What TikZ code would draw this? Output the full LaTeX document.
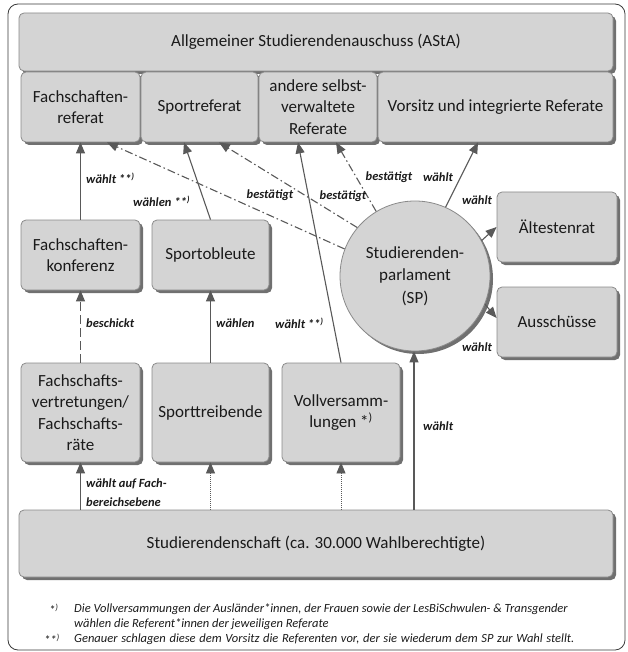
\documentclass[tikz,border=0pt]{standalone}
\usepackage{fontspec}
\setmainfont{Carlito}
\usetikzlibrary{arrows.meta,shadows,calc}
\definecolor{boxfill}{HTML}{D4D4D4}
\definecolor{boxline}{HTML}{8A8A8A}
\definecolor{shadowc}{HTML}{707070}
\definecolor{arrc}{HTML}{595959}
\definecolor{framec}{HTML}{3A3A3A}
\definecolor{txt}{HTML}{1A1A1A}
\newcommand\fnmark{\textsuperscript{)}}
\begin{document}
\begin{tikzpicture}[x=1pt,y=-1pt,
  box/.style={draw=boxline, line width=0.8pt, fill=boxfill, rounded corners=5pt,
    align=center, inner sep=2pt, text=txt, font=\fontsize{17}{21.5}\selectfont,
    drop shadow={shadow xshift=3pt, shadow yshift=-3pt, fill=shadowc, opacity=1}},
  arr/.style={draw=arrc, line width=1.1pt, -{Triangle[length=11pt,width=9pt]}},
  dd/.style={arr, dash pattern=on 8pt off 3pt on 1.5pt off 3pt},
  ldash/.style={arr, dash pattern=on 9pt off 4pt},
  dotl/.style={arr, line width=0.8pt, dash pattern=on 1pt off 1pt},
  lab/.style={font=\fontsize{12.5}{19}\selectfont\bfseries\itshape, inner sep=0pt, text=txt},
  fn/.style={font=\fontsize{12.5}{15}\selectfont\itshape, inner sep=0pt, anchor=west, text=txt}
]
\useasboundingbox (0,0) rectangle (627,652);
\draw[framec, line width=0.8pt, rounded corners=10pt] (8,4) rectangle (625,650);

% top
\node[box, minimum width=594pt, minimum height=58pt] (asta) at (316,42) {Allgemeiner Studierendenauschuss (AStA)};
\node[box, minimum width=119pt, minimum height=70pt] (fr) at (80.5,107) {Fachschaften-\\referat};
\node[box, minimum width=117pt, minimum height=70pt] (sr) at (199.5,107) {Sportreferat};
\node[box, minimum width=118pt, minimum height=70pt] (av) at (318,107) {andere selbst-\\verwaltete\\Referate};
\node[box, minimum width=235pt, minimum height=70pt] (vo) at (495.5,107) {Vorsitz und integrierte Referate};

% middle
\node[box, minimum width=119pt, minimum height=70pt] (fk) at (80.5,255) {Fachschaften-\\konferenz};
\node[box, minimum width=117pt, minimum height=70pt] (sob) at (210.5,255) {Sportobleute};
\node[box, circle, minimum size=150pt, inner sep=0pt, font=\fontsize{17}{22.5}\selectfont] (sp) at (415,276) {Studierenden-\\parlament\\(SP)};
\node[box, minimum width=120pt, minimum height=70pt] (ae) at (557,227) {Ältestenrat};
\node[box, minimum width=120pt, minimum height=70pt] (au) at (557,322) {Ausschüsse};

% lower
\node[box, minimum width=119pt, minimum height=99pt] (fsv) at (80.5,412.5) {Fachschafts-\\vertretungen/\\Fachschafts-\\räte};
\node[box, minimum width=117pt, minimum height=99pt] (st) at (210.5,412.5) {Sporttreibende};
\node[box, minimum width=118pt, minimum height=99pt] (vv) at (341,412.5) {Vollversamm-\\lungen *\fnmark};
\node[box, minimum width=594pt, minimum height=67pt] (ss) at (316,543.5) {Studierendenschaft (ca. 30.000 Wahlberechtigte)};

% connectors
\draw[arr] (fk.north) -- (fr.south);
\draw[arr] (sob.north) -- ([xshift=-15.5pt]sr.south);
\draw[arr] (vv.north) -- ([xshift=-20pt]av.south);
\draw[dd] (sp.159.6) -- ([xshift=26.5pt]fr.south);
\draw[dd] (sp.140.4) -- ([xshift=19.5pt]sr.south);
\draw[dd] (sp.121.4) -- ([xshift=18pt]av.south);
\draw[arr] (sp.66) -- ([xshift=-17.5pt]vo.south);
\draw[arr] (sp.28.4) -- (ae.west);
\draw[arr] (sp.-22) -- ([yshift=4pt]au.west);
\draw[ldash] (fsv.north) -- (fk.south);
\draw[arr] (st.north) -- (sob.south);
\draw[arr] (fsv.south |- ss.north) -- (fsv.south);
\draw[dotl] (st.south |- ss.north) -- (st.south);
\draw[dotl] (vv.south |- ss.north) -- (vv.south);
\draw[arr] ([xshift=-1pt]sp.south |- ss.north) -- ([xshift=-1pt]sp.south);

% labels
\node[lab, anchor=west] (l1) at (86,178) {wählt **\fnmark};
\node[lab, anchor=west] (l2) at (133,201) {wählen **\fnmark};
\node[lab] (l3) at (270,195) {bestätigt};
\node[lab] (l4) at (343,196) {bestätigt};
\node[lab] (l5) at (389,177) {bestätigt};
\node[lab] (l6) at (438,177) {wählt};
\node[lab] (l7) at (477,200) {wählt};
\node[lab] (l8) at (477,347) {wählt};
\node[lab, anchor=west] (l9) at (86,323) {beschickt};
\node[lab, anchor=west] (l10) at (216,323) {wählen};
\node[lab, anchor=west] (l11) at (275,323) {wählt **\fnmark};
\node[lab, anchor=west] (l12) at (423,426) {wählt};
\node[lab, anchor=west, align=left] (l13) at (86,492.5) {wählt auf Fach-\\bereichsebene};

% footnotes
\node[fn] (f1m) at (49,609) {*\fnmark};
\node[fn] (f1) at (74,609) {Die Vollversammungen der Ausländer*innen, der Frauen sowie der LesBiSchwulen- \& Transgender};
\node[fn] (f2) at (74,624) {wählen die Referent*innen der jeweiligen Referate};
\node[fn] (f3m) at (44,639) {**\fnmark};
\node[fn] (f3) at (74,639) {\spaceskip=3.7pt Genauer schlagen diese dem Vorsitz die Referenten vor, der sie wiederum dem SP zur Wahl stellt.};
\end{tikzpicture}
\end{document}
